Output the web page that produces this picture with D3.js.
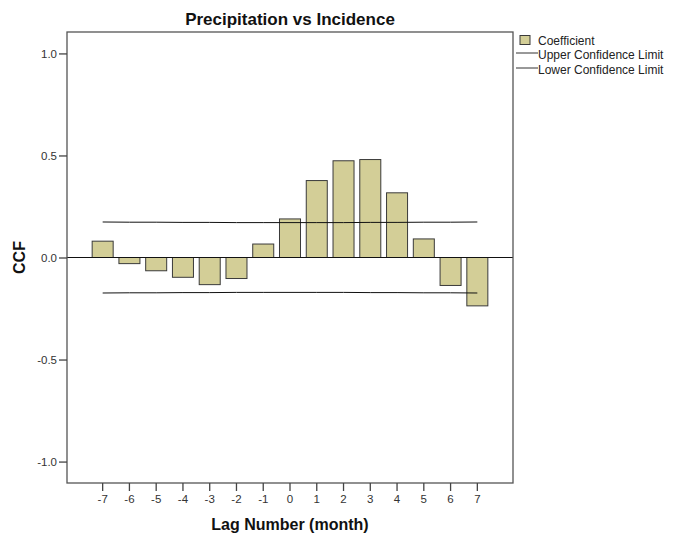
<!DOCTYPE html>
<html>
<head>
<meta charset="utf-8">
<script src="https://cdn.jsdelivr.net/npm/d3@7"></script>
<style>
  body { margin: 0; background: #fff; }
  svg { display: block; font-family: "Liberation Sans", Arial, sans-serif; }
</style>
</head>
<body>
<div id="chart"></div>
<script>
// data
var lags = [-7, -6, -5, -4, -3, -2, -1, 0, 1, 2, 3, 4, 5, 6, 7];
var coefficient = [0.080, -0.030, -0.065, -0.097, -0.133, -0.103, 0.066, 0.189, 0.377, 0.474, 0.480, 0.317, 0.091, -0.137, -0.237];
var upperLimit = [0.174, 0.173, 0.173, 0.172, 0.172, 0.171, 0.171, 0.171, 0.171, 0.171, 0.172, 0.172, 0.173, 0.173, 0.174];
var lowerLimit = [-0.174, -0.173, -0.173, -0.172, -0.172, -0.171, -0.171, -0.171, -0.171, -0.171, -0.172, -0.172, -0.173, -0.173, -0.174];
var yTicks = [1.0, 0.5, 0.0, -0.5, -1.0];
var legendLabels = ["Coefficient", "Upper Confidence Limit", "Lower Confidence Limit"];

var W = 675, H = 537;
var plot = {left: 67, right: 513, top: 32, bottom: 483};

var svg = d3.select("#chart").append("svg")
    .attr("width", W)
    .attr("height", H);

var x = d3.scaleBand()
    .domain(lags)
    .range([plot.left, plot.right])
    .paddingInner(0.215)
    .paddingOuter(0.94);

var y = d3.scaleLinear()
    .domain([-1.105, 1.105])
    .range([plot.bottom, plot.top]);

var cx = function(d) { return x(d) + x.bandwidth() / 2; };

// bars
svg.append("g").selectAll("rect")
    .data(lags)
  .enter().append("rect")
    .attr("x", function(d) { return x(d); })
    .attr("width", x.bandwidth())
    .attr("y", function(d, i) { return y(Math.max(0, coefficient[i])); })
    .attr("height", function(d, i) { return Math.abs(y(coefficient[i]) - y(0)); })
    .attr("fill", "#d3ce97")
    .attr("stroke", "#3a3a3a")
    .attr("stroke-width", 1);

// zero reference line
svg.append("line")
    .attr("x1", plot.left).attr("x2", plot.right)
    .attr("y1", y(0)).attr("y2", y(0))
    .attr("stroke", "#111")
    .attr("stroke-width", 1);

// confidence limits
var limLine = d3.line()
    .x(function(d) { return cx(d[0]); })
    .y(function(d) { return y(d[1]); });

[upperLimit, lowerLimit].forEach(function(arr) {
  svg.append("path")
      .datum(lags.map(function(l, i) { return [l, arr[i]]; }))
      .attr("d", limLine)
      .attr("fill", "none")
      .attr("stroke", "#111")
      .attr("stroke-width", 1);
});

// frame
svg.append("rect")
    .attr("x", plot.left).attr("y", plot.top)
    .attr("width", plot.right - plot.left)
    .attr("height", plot.bottom - plot.top)
    .attr("fill", "none")
    .attr("stroke", "#555")
    .attr("stroke-width", 1.3);

// y axis
var yAxis = svg.append("g")
    .attr("transform", "translate(" + plot.left + ",0)")
    .call(d3.axisLeft(y).tickValues(yTicks).tickSize(8).tickPadding(2)
      .tickFormat(function(d) { return d3.format(".1f")(d).replace("\u2212", "-"); }));
yAxis.select(".domain").remove();
yAxis.selectAll(".tick line").attr("stroke", "#444").attr("stroke-width", 1.3);
yAxis.selectAll(".tick text")
    .attr("fill", "#333")
    .style("font-size", "11.5px")
    .style("font-family", "Liberation Sans, Arial, sans-serif");

// x axis
var xAxis = svg.append("g")
    .attr("transform", "translate(0," + plot.bottom + ")")
    .call(d3.axisBottom(x).tickSize(8).tickPadding(4));
xAxis.select(".domain").remove();
xAxis.selectAll(".tick line").attr("stroke", "#444").attr("stroke-width", 1.3);
xAxis.selectAll(".tick text")
    .attr("fill", "#333")
    .style("font-size", "11.5px")
    .style("font-family", "Liberation Sans, Arial, sans-serif");

// titles
svg.append("text")
    .attr("x", (plot.left + plot.right) / 2)
    .attr("y", 25)
    .attr("text-anchor", "middle")
    .style("font-size", "17px")
    .style("font-weight", "bold")
    .attr("fill", "#111")
    .text("Precipitation vs Incidence");

svg.append("text")
    .attr("x", (plot.left + plot.right) / 2)
    .attr("y", 530)
    .attr("text-anchor", "middle")
    .style("font-size", "16px")
    .style("font-weight", "bold")
    .attr("fill", "#111")
    .text("Lag Number (month)");

svg.append("text")
    .attr("transform", "translate(25," + y(0) + ") rotate(-90)")
    .attr("text-anchor", "middle")
    .style("font-size", "16px")
    .style("font-weight", "bold")
    .attr("fill", "#111")
    .text("CCF");

// legend
var legend = svg.append("g").attr("transform", "translate(516,0)");
legend.append("rect")
    .attr("x", 4).attr("y", 35.5)
    .attr("width", 10).attr("height", 9)
    .attr("fill", "#d3ce97")
    .attr("stroke", "#3a3a3a");
[53, 68].forEach(function(yy) {
  legend.append("line")
      .attr("x1", 0).attr("x2", 22)
      .attr("y1", yy).attr("y2", yy)
      .attr("stroke", "#333")
      .attr("stroke-width", 1);
});
legend.selectAll(".legend")
    .data(legendLabels)
  .enter().append("text")
    .attr("class", "legend")
    .attr("x", 22)
    .attr("y", function(d, i) { return 44.5 + i * 14.5; })
    .style("font-size", "12px")
    .attr("fill", "#222")
    .text(function(d) { return d; });
</script>
</body>
</html>
